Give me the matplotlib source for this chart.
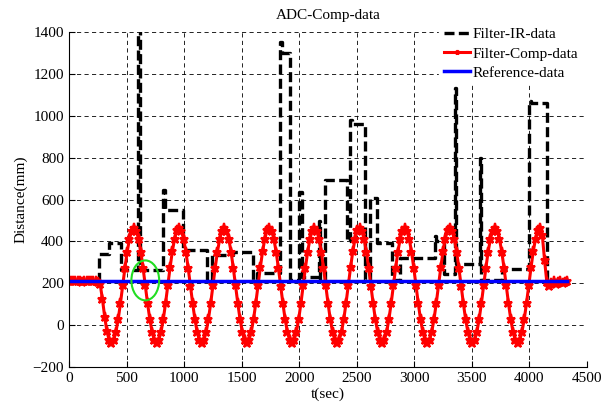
import numpy as np
import matplotlib
matplotlib.use('Agg')
import matplotlib.pyplot as plt
from matplotlib.patches import Ellipse

plt.rcParams['font.family'] = ['Liberation Serif', 'DejaVu Serif']
plt.rcParams['font.size'] = 11

# Filter-IR-data: step levels (start time, value)
ir_t = [0, 263, 345, 450, 597, 617, 815, 830, 995, 1200, 1240, 1425, 1600, 1630,
        1833, 1850, 1920, 2000, 2024, 2170, 2182, 2224, 2412, 2441, 2455, 2572,
        2615, 2673, 2803, 2880, 3180, 3190, 3260, 3355, 3365, 3570, 3580, 3760,
        4000, 4015, 4150, 4330]
ir_v = [212, 340, 395, 262, 1450, 265, 647, 551, 360, 215, 335, 350, 215, 250,
        1355, 1303, 215, 639, 230, 496, 215, 695, 400, 981, 961, 215,
        607, 392, 215, 321, 424, 400, 244, 1133, 293, 798, 215, 270,
        1072, 1060, 215, 215]

# Filter-Comp-data, sampled every 19.6 s
comp_v = [210, 212, 209, 211, 213, 210, 208, 211, 212, 209, 210, 212, 211, 208,
          195, 125, 40, -30, -72, -84,
          -72, -32, 28, 105, 190, 275, 352, 412, 452, 466, 452, 412, 352, 275, 190, 105, 28, -32, -72, -85,
          -71, -31, 29, 106, 191, 276, 353, 413, 453, 465, 451, 411, 351, 274, 189, 104, 27, -33, -73, -86,
          -72, -32, 28, 105, 190, 275, 352, 412, 452, 464, 452, 412, 352, 275, 190, 105, 28, -32, -72, -85,
          -71, -31, 29, 106, 191, 276, 353, 413, 453, 466, 451, 411, 351, 274, 189, 104, 27, -33, -73, -84,
          -72, -32, 28, 105, 190, 275, 352, 412, 452, 465, 452, 412, 352, 275, 190, 105, 28, -32, -72, -86,
          -71, -31, 29, 106, 191, 276, 353, 413, 453, 464, 451, 411, 351, 274, 189, 104, 27, -33, -73, -85,
          -72, -32, 28, 105, 190, 275, 352, 412, 452, 466, 452, 412, 352, 275, 190, 105, 28, -32, -72, -84,
          -71, -31, 29, 106, 191, 276, 353, 413, 453, 465, 451, 411, 351, 274, 189, 104, 27, -33, -73, -86,
          -72, -32, 28, 105, 190, 275, 352, 412, 452, 464, 452, 412, 352, 275, 190, 105, 28, -32, -72, -85,
          -71, -31, 29, 106, 191, 276, 353, 413, 453, 466,
          430, 310, 205, 188, 200, 212, 196, 206, 213, 200, 208, 210]
comp_t = np.arange(len(comp_v)) * 19.6 - 3.4

# Reference-data
ref_t = [0, 4330]
ref_v = [213, 213]

fig = plt.figure(figsize=(6.12, 4.05), dpi=100)
ax = fig.add_axes([0.1127, 0.094, 0.8463, 0.826])

ax.plot(ir_t, ir_v, 'k--', lw=2.4, drawstyle='steps-post', dashes=(3, 1.3),
        label='Filter-IR-data')
ax.plot(comp_t, comp_v, 'r-*', lw=2.2, ms=6.5, mew=1.5, label='Filter-Comp-data')
ax.plot(ref_t, ref_v, 'b-', lw=2.5, label='Reference-data')

ax.add_patch(Ellipse((663, 214), 241, 191, fill=False, ec='#22dd22', lw=1.5, zorder=5))

ax.set_xlim(0, 4500)
ax.set_ylim(-200, 1400)
ax.set_xticks(range(0, 4501, 500))
ax.set_yticks(range(-200, 1401, 200))
ax.grid(True, color='k', ls=(0, (5, 4)), lw=0.6)
ax.set_axisbelow(True)
ax.spines['top'].set_visible(False)
ax.spines['right'].set_visible(False)
ax.tick_params(direction='in', length=4)

ax.set_title('ADC-Comp-data', fontsize=11, pad=10)
ax.set_xlabel('t(sec)', labelpad=2)
ax.set_ylabel('Distance(mm)', labelpad=4)

leg = fig.legend(loc='upper left', bbox_to_anchor=(0.705, 0.962), frameon=True,
                 handlelength=1.7, handletextpad=0.2, labelspacing=0.36,
                 borderpad=0.3, fontsize=11, markerscale=0.5)
leg.get_frame().set_edgecolor('white')
leg.get_frame().set_alpha(1)

plt.savefig('out.png', dpi=100)
